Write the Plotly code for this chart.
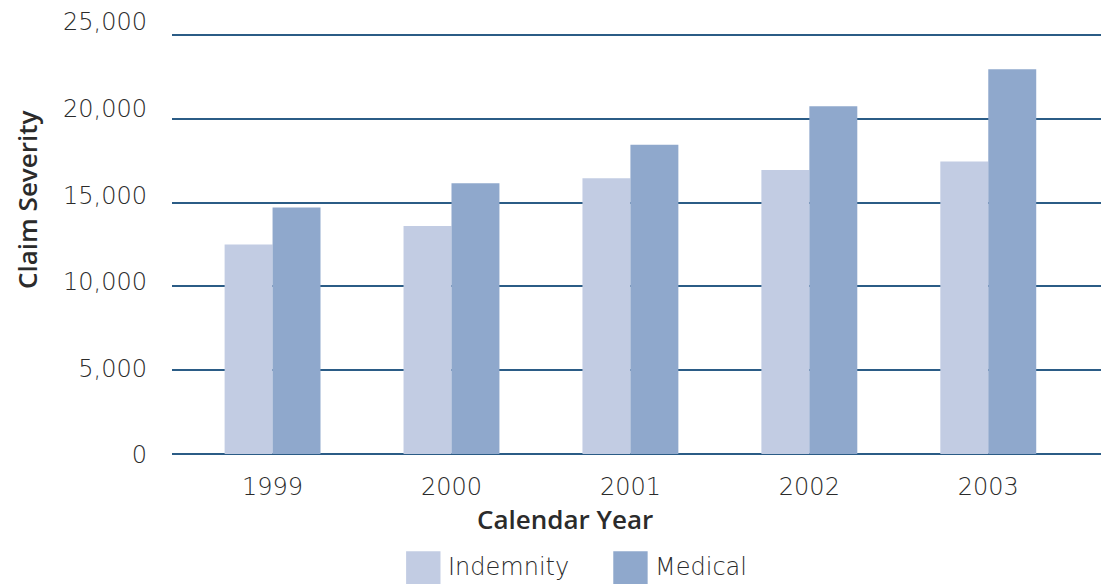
import plotly.graph_objects as go

years = ["1999", "2000", "2001", "2002", "2003"]
indemnity = [12500, 13600, 16450, 16950, 17450]
medical = [14700, 16150, 18450, 20750, 22950]
y_ticks = [0, 5000, 10000, 15000, 20000, 25000]
y_tick_text = ["0", "5,000", "10,000", "15,000", "20,000", "25,000"]

c_ind = "#c2cce3"
c_med = "#8fa8cc"
grid = "#2b5c86"
txt = "#2b2b2b"
tick_font = dict(family="DejaVu Sans", size=24, color=txt, weight=200)
title_font = dict(family="Open Sans", size=26, color=txt, weight=600)

fig = go.Figure()

# bars
fig.add_trace(go.Bar(x=years, y=indemnity, name="Indemnity",
                     marker=dict(color=c_ind, line_width=0)))
fig.add_trace(go.Bar(x=years, y=medical, name="Medical",
                     marker=dict(color=c_med, line_width=0)))
# invisible trace so the label axis gets drawn (labels sit on a slightly taller scale)
fig.add_trace(go.Scatter(x=years[:1], y=[0], yaxis="y2", mode="markers",
                         marker=dict(opacity=0), hoverinfo="skip"))

# hand-made legend with large swatches
legend_items = [("Indemnity", c_ind, 0.252), ("Medical", c_med, 0.475)]
for name, col, x0 in legend_items:
    fig.add_shape(type="rect", xref="paper", yref="paper",
                  x0=x0, x1=x0 + 0.037, y0=-0.300, y1=-0.222,
                  fillcolor=col, line_width=0)
    fig.add_annotation(text=name, xref="paper", yref="paper",
                       x=x0 + 0.043, y=-0.259, xanchor="left", yanchor="middle",
                       showarrow=False, font=tick_font)

# axis titles (placed off-centre like the original)
fig.add_annotation(text="Calendar Year", xref="paper", yref="paper",
                   x=0.423, y=-0.148, xanchor="center", yanchor="middle",
                   showarrow=False, font=title_font)
fig.add_annotation(text="Claim Severity", xref="paper", yref="paper",
                   x=-0.156, y=0.589, xanchor="center", yanchor="middle",
                   textangle=-90, showarrow=False, font=title_font)

fig.update_layout(
    width=1101, height=584,
    margin=dict(l=172, r=0, t=22, b=129),
    plot_bgcolor="rgba(0,0,0,0)",
    paper_bgcolor="white",
    barmode="group",
    bargap=0.464,
    bargroupgap=0,
    showlegend=False,
    font=dict(family="Open Sans", color=txt),
    xaxis=dict(
        range=[-0.562, 4.63],
        showgrid=False,
        showline=False,
        ticks="",
        ticklabelstandoff=16,
        tickfont=tick_font,
    ),
    yaxis=dict(
        domain=[0.0023, 0.9778],
        range=[0, 25200],
        tickvals=y_ticks,
        showticklabels=False,
        showgrid=True,
        gridcolor=grid,
        gridwidth=2,
        zeroline=True,
        zerolinecolor=grid,
        zerolinewidth=2,
        ticks="",
    ),
    yaxis2=dict(
        domain=[0, 1],
        anchor="x",
        range=[0, 25000],
        tickvals=y_ticks,
        ticktext=y_tick_text,
        showgrid=False,
        zeroline=False,
        ticks="",
        ticklabelstandoff=24,
        tickfont=tick_font,
    ),
)

fig.write_html("out.html", config={"displayModeBar": False},
               post_script="document.body.style.margin='0';")
